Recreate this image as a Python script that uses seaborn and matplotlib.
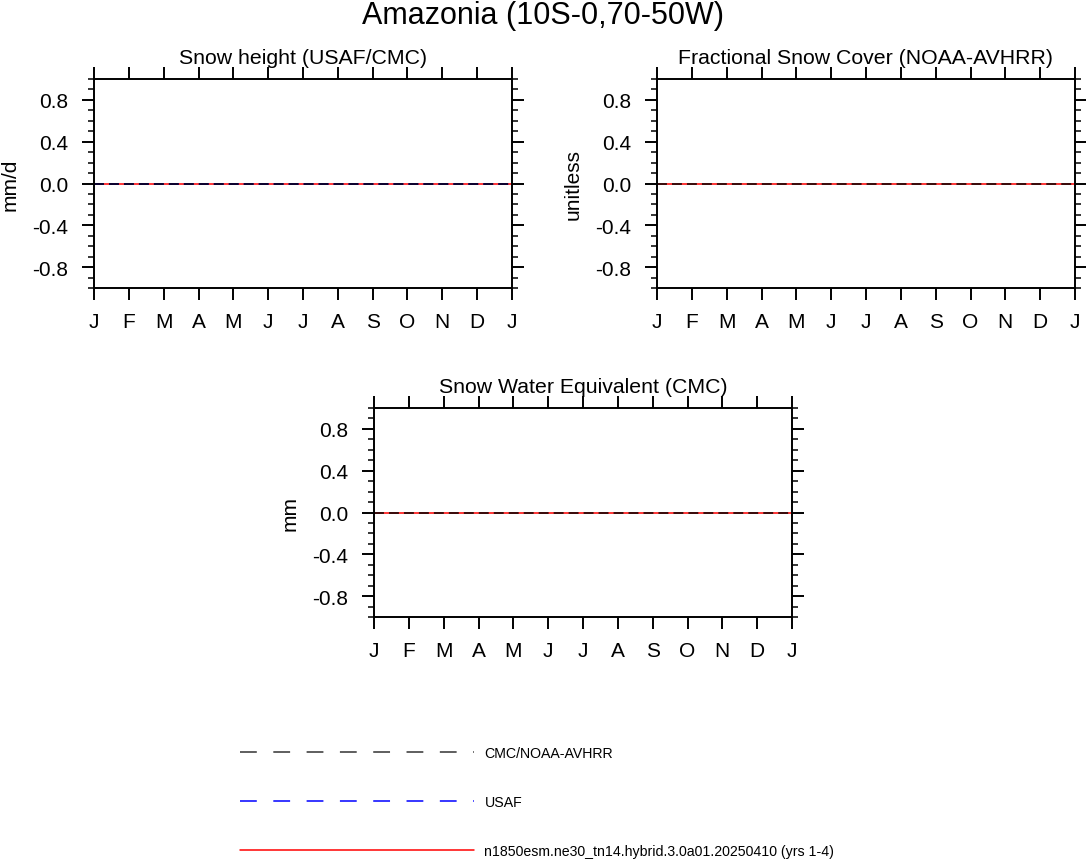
import numpy as np
import pandas as pd
import matplotlib
matplotlib.use("Agg")
import matplotlib.pyplot as plt
from matplotlib.lines import Line2D
from matplotlib.ticker import MultipleLocator
import seaborn as sns

# data
month_labels = ["J", "F", "M", "A", "M", "J", "J", "A", "S", "O", "N", "D", "J"]
month_pos = list(range(13))

snow_height_model = [0.0] * 13
snow_height_usaf = [0.0] * 13
snow_height_cmc = [0.0] * 13
snow_cover_model = [0.0] * 13
snow_cover_avhrr = [0.0] * 13
swe_model = [0.0] * 13
swe_cmc = [0.0] * 13

ytick_vals = [-0.8, -0.4, 0.0, 0.4, 0.8]
ytick_labels = ["-0.8", "-0.4", "0.0", "0.4", "0.8"]

obs_label = "CMC/NOAA-AVHRR"
usaf_label = "USAF"
model_label = "n1850esm.ne30_tn14.hybrid.3.0a01.20250410 (yrs 1-4)"

sns.set_style("ticks", {"axes.edgecolor": "black", "text.color": "black",
                        "xtick.color": "black", "ytick.color": "black",
                        "axes.labelcolor": "black"})
plt.rcParams["font.family"] = ["Liberation Sans", "DejaVu Sans"]

fig = plt.figure(figsize=(10.86, 8.62), dpi=100)
W, H = 1086, 862


def make_ax(left, top, right, bottom):
    return fig.add_axes([left / W, 1 - bottom / H, (right - left) / W, (bottom - top) / H])


panels = [
    (make_ax(94, 80, 512, 289), "Snow height (USAF/CMC)", "mm/d",
     [(snow_height_model, "red", "-"), (snow_height_usaf, "blue", "--"), (snow_height_cmc, "black", "--")]),
    (make_ax(657, 80, 1075, 289), "Fractional Snow Cover (NOAA-AVHRR)", "unitless",
     [(snow_cover_model, "red", "-"), (snow_cover_avhrr, "black", "--")]),
    (make_ax(374, 409, 792, 618), "Snow Water Equivalent (CMC)", "mm",
     [(swe_model, "red", "-"), (swe_cmc, "black", "--")]),
]

for ax, title, ylab, series in panels:
    for vals, col, ls in series:
        df = pd.DataFrame({"month": month_pos, "value": vals})
        line_kw = dict(color=col, linewidth=1.1)
        if ls == "--":
            line_kw["linestyle"] = (0, (6.5, 3.3))
        sns.lineplot(data=df, x="month", y="value", ax=ax, **line_kw)
    ax.set_xlim(0, 12)
    ax.set_ylim(-1, 1)
    ax.set_xticks(month_pos)
    ax.set_xticklabels(month_labels)
    ax.set_yticks(ytick_vals)
    ax.set_yticklabels(ytick_labels)
    ax.yaxis.set_minor_locator(MultipleLocator(0.1))
    ax.tick_params(axis="both", which="major", direction="out", length=8.5, width=1.4,
                   top=True, right=True, labelsize=15, colors="black")
    ax.tick_params(axis="y", which="minor", direction="out", length=4.3, width=1.1,
                   left=True, right=True, colors="black")
    ax.tick_params(axis="y", which="major", pad=10)
    ax.tick_params(axis="x", which="major", pad=9)
    for sp in ax.spines.values():
        sp.set_linewidth(1.4)
        sp.set_color("black")
        sp.set_visible(True)
    ax.set_xlabel("")
    ax.set_ylabel(ylab, fontsize=15, labelpad=9)
    ax.set_title(title, fontsize=15.3, pad=11.5)

fig.suptitle("Amazonia (10S-0,70-50W)", fontsize=22, y=0.999, va="top")

handles = [
    Line2D([], [], color="#333333", linewidth=1.1, linestyle=(0, (11, 10.8))),
    Line2D([], [], color="blue", linewidth=1.1, linestyle=(0, (11, 10.8))),
    Line2D([], [], color="red", linewidth=1.1),
]
fig.legend(handles, [obs_label, usaf_label, model_label],
           loc="center left", bbox_to_anchor=(240 / W, 1 - 803 / H),
           frameon=False, fontsize=10.2, handlelength=16.5, handletextpad=0.75,
           labelspacing=2.5, borderpad=0, borderaxespad=0)

fig.savefig("out.png", dpi=100)
